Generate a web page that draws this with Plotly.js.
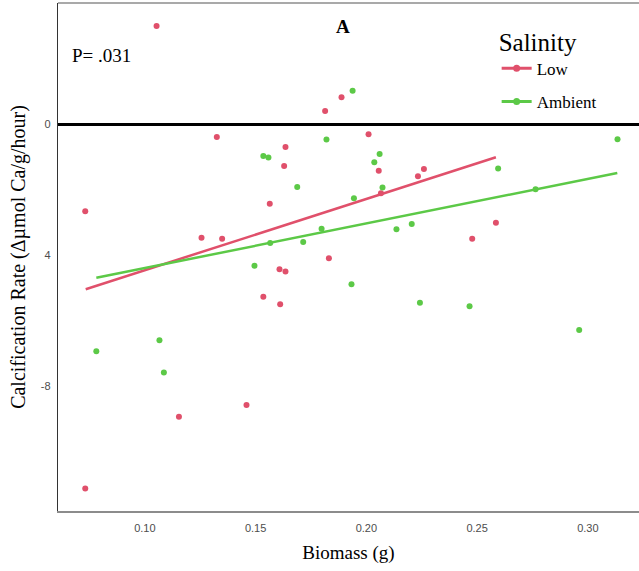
<!DOCTYPE html>
<html>
<head>
<meta charset="utf-8">
<script src="https://cdn.plot.ly/plotly-3.0.1.min.js"></script>
<style>html,body{margin:0;padding:0;background:#fff;}#chart{width:639px;height:571px;}</style>
</head>
<body>
<div id="chart"></div>
<script>
// Low salinity observations
var lowX = [0.1053, 0.1325, 0.1814, 0.1888, 0.2010, 0.1635, 0.1629, 0.2056, 0.2233, 0.2260,
            0.2066, 0.1256, 0.1349, 0.1564, 0.1831, 0.1608, 0.1635, 0.1535, 0.1611, 0.2585,
            0.2478, 0.0731, 0.1154, 0.0731, 0.1459];
var lowY = [3.01, -0.38, 0.41, 0.83, -0.30, -0.69, -1.27, -1.41, -1.58, -1.36,
            -2.10, -3.46, -3.49, -2.42, -4.08, -4.42, -4.49, -5.26, -5.49, -3.00,
            -3.49, -2.65, -8.92, -11.11, -8.56];
// Ambient salinity observations
var ambX = [0.1938, 0.1820, 0.1535, 0.1558, 0.2060, 0.2036, 0.1688, 0.2073, 0.1944, 0.1798,
            0.1566, 0.1715, 0.2136, 0.2205, 0.1495, 0.1933, 0.2242, 0.2764, 0.2466, 0.2961,
            0.3134, 0.2595, 0.0781, 0.1066, 0.1086];
var ambY = [1.03, -0.46, -0.96, -1.01, -0.90, -1.15, -1.91, -1.92, -2.25, -3.18,
            -3.62, -3.59, -3.20, -3.04, -4.31, -4.88, -5.44, -1.98, -5.55, -6.27,
            -0.45, -1.34, -6.92, -6.59, -7.57];
// Fitted regression lines (end points)
var lowFitX = [0.0733, 0.2585];
var lowFitY = [-5.03, -1.00];
var ambFitX = [0.0781, 0.3133];
var ambFitY = [-4.68, -1.48];
// Axis ticks
var yTickVals = [0, -4, -8];
var yTickText = ['0', '4', '-8'];
var xTickVals = [0.10, 0.15, 0.20, 0.25, 0.30];
var xTickText = ['0.10', '0.15', '0.20', '0.25', '0.30'];

var red = '#E0506B';
var green = '#5CC947';
var serif = '"Liberation Serif", "Times New Roman", serif';
var sans = '"Liberation Sans", Arial, sans-serif';

var traces = [
  {x: lowX, y: lowY, type: 'scatter', mode: 'markers', marker: {color: red, size: 6}, showlegend: false, hoverinfo: 'x+y'},
  {x: ambX, y: ambY, type: 'scatter', mode: 'markers', marker: {color: green, size: 6}, showlegend: false, hoverinfo: 'x+y'},
  {x: lowFitX, y: lowFitY, type: 'scatter', mode: 'lines', line: {color: red, width: 2.5}, showlegend: false},
  {x: ambFitX, y: ambFitY, type: 'scatter', mode: 'lines', line: {color: green, width: 2.5}, showlegend: false},
  {x: [null], y: [null], type: 'scatter', mode: 'lines+markers', name: 'Low', legendgroup: 'low',
   line: {color: red, width: 3}, marker: {color: red, size: 7}},
  {x: [null], y: [null], type: 'scatter', mode: 'lines+markers', name: 'Ambient', legendgroup: 'amb',
   line: {color: green, width: 3}, marker: {color: green, size: 7}}
];

var layout = {
  width: 639, height: 571,
  margin: {l: 58, r: 0, t: 3, b: 60, pad: 0},
  paper_bgcolor: '#fff', plot_bgcolor: '#fff',
  showlegend: true,
  legend: {
    x: 0.755, y: 0.97, xanchor: 'left', yanchor: 'top',
    bgcolor: 'rgba(0,0,0,0)',
    title: {text: 'Salinity', font: {family: serif, size: 25, color: '#000'}},
    font: {family: serif, size: 17, color: '#000'},
    traceorder: 'grouped', tracegroupgap: 8
  },
  xaxis: {
    range: [0.0608, 0.3231], tickvals: xTickVals, ticktext: xTickText,
    showgrid: false, zeroline: false, showline: true, linecolor: '#8c8c8c', linewidth: 1.5,
    ticks: '', ticklabelstandoff: 6,
    tickfont: {family: sans, size: 11, color: '#4d4d4d'},
    title: {text: 'Biomass (g)', font: {family: serif, size: 19, color: '#000'}, standoff: 13}
  },
  yaxis: {
    range: [-11.80, 3.71], tickvals: yTickVals, ticktext: yTickText,
    showgrid: false, zeroline: true, zerolinecolor: '#000', zerolinewidth: 3,
    showline: true, linecolor: '#333', linewidth: 1.2,
    ticks: '', ticklabelstandoff: 4,
    tickfont: {family: sans, size: 11, color: '#4d4d4d'},
    title: {text: 'Calcification Rate (Δµmol Ca/g/hour)', font: {family: serif, size: 20, color: '#000'}, standoff: 9}
  },
  shapes: [
    {type: 'line', xref: 'paper', yref: 'paper', x0: 0, x1: 1, y0: 1, y1: 1, line: {color: '#8c8c8c', width: 1.5}}
  ],
  annotations: [
    {text: '<b>A</b>', xref: 'paper', yref: 'paper', x: (343 - 58) / 581, y: (511 - 26) / 508,
     xanchor: 'center', yanchor: 'middle', showarrow: false, font: {family: serif, size: 19, color: '#000'}},
    {text: 'P= .031', xref: 'paper', yref: 'paper', x: (70 - 58) / 581, y: (511 - 55) / 508,
     xanchor: 'left', yanchor: 'middle', showarrow: false, font: {family: serif, size: 19, color: '#000'}}
  ]
};

Plotly.newPlot('chart', traces, layout, {displayModeBar: false, staticPlot: true});
</script>
</body>
</html>
